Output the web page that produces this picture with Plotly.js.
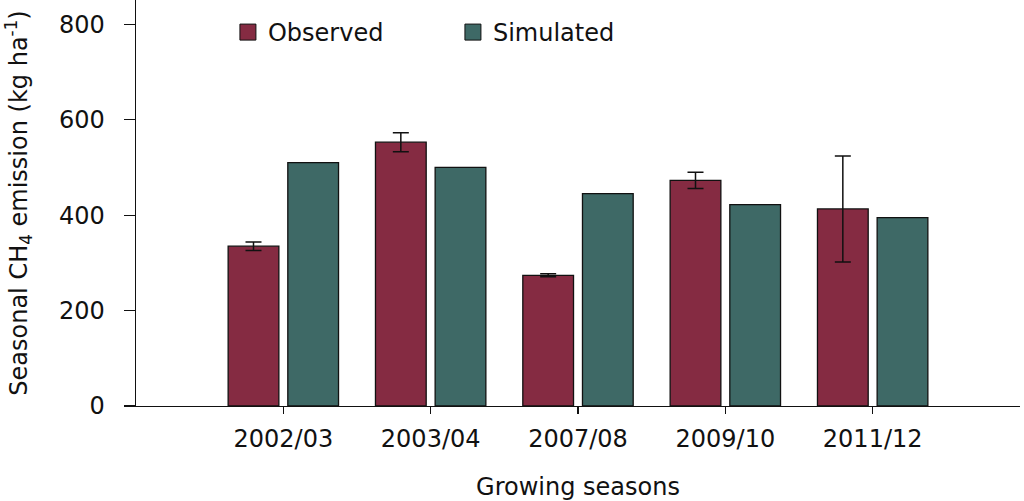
<!DOCTYPE html>
<html>
<head>
<meta charset="utf-8">
<script src="https://cdn.plot.ly/plotly-3.0.1.min.js"></script>
<style>html,body{margin:0;padding:0;background:#fff;}#chart{width:1024px;height:501px;}</style>
</head>
<body>
<div id="chart"></div>
<script>
var seasons = ["2002/03", "2003/04", "2007/08", "2009/10", "2011/12"];
var observed = [335, 553, 274, 473, 413];
var observedErr = [9, 20, 3, 17, 111];
var simulated = [510, 500, 445, 422, 395];
var yTicks = [0, 200, 400, 600, 800];

var obsColor = "#852b42";
var simColor = "#3e6966";
var font = "DejaVu Sans, sans-serif";
var fs = 24;

var traces = [
  {
    type: "bar", x: seasons, y: observed, name: "Observed", showlegend: false,
    marker: {color: obsColor, line: {color: "#111", width: 1.3}},
    error_y: {type: "data", array: observedErr, visible: true, color: "#111", thickness: 1.5, width: 8}
  },
  {
    type: "bar", x: seasons, y: simulated, name: "Simulated", showlegend: false,
    marker: {color: simColor, line: {color: "#111", width: 1.3}}
  },
  {
    type: "scatter", mode: "markers", x: [null], y: [null], name: "Observed",
    marker: {symbol: "square", size: 16, color: obsColor, line: {color: "#111", width: 1}}
  },
  {
    type: "scatter", mode: "markers", x: [null], y: [null], name: "Simulated",
    marker: {symbol: "square", size: 16, color: simColor, line: {color: "#111", width: 1}}
  }
];

var layout = {
  width: 1024, height: 501,
  margin: {l: 136, r: 4, t: 0, b: 95},
  paper_bgcolor: "#fff", plot_bgcolor: "#fff",
  font: {family: font, size: fs, color: "#111"},
  barmode: "group", bargap: 0.19, bargroupgap: 0.15,
  showlegend: true,
  legend: {orientation: "h", x: 0.104, y: 0.92, xanchor: "left", yanchor: "middle",
           entrywidth: 180, entrywidthmode: "pixels", bgcolor: "rgba(0,0,0,0)",
           font: {family: font, size: fs, color: "#111"}},
  xaxis: {
    type: "category", range: [-1, 5], showgrid: false, zeroline: false,
    showline: true, linecolor: "#111", linewidth: 1.3,
    ticks: "outside", ticklen: 7, tickcolor: "#111", tickwidth: 1.3,
    ticklabelstandoff: 4,
    tickfont: {family: font, size: fs, color: "#111"},
    title: {text: "Growing seasons", font: {family: font, size: fs, color: "#111"}, standoff: 28}
  },
  yaxis: {
    range: [0, 851], tickvals: yTicks, showgrid: false, zeroline: false,
    showline: true, linecolor: "#111", linewidth: 1.3,
    ticks: "outside", ticklen: 11, tickcolor: "#111", tickwidth: 1.3,
    ticklabelstandoff: 14,
    tickfont: {family: font, size: fs, color: "#111"},
    title: {text: "Seasonal CH<sub>4</sub> emission (kg ha<sup>-1</sup>)", font: {family: font, size: fs, color: "#111"}, standoff: 24}
  }
};

Plotly.newPlot("chart", traces, layout, {displayModeBar: false, staticPlot: true});
</script>
</body>
</html>
